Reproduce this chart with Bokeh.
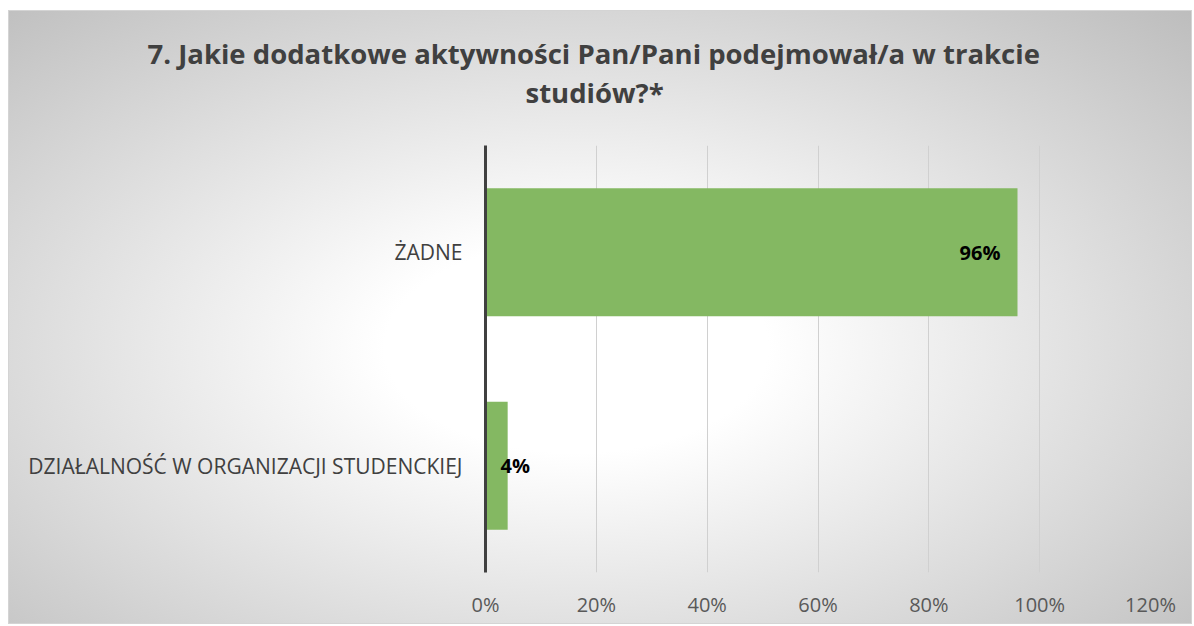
from bokeh.plotting import figure
from bokeh.models import ColumnDataSource, FactorRange, Range1d, NumeralTickFormatter, Title, FixedTicker
from bokeh.core.properties import value
from bokeh.embed import file_html
from bokeh.resources import INLINE

categories = ["DZIAŁALNOŚĆ W ORGANIZACJI STUDENCKIEJ", "ŻADNE"]
shares = [0.04, 0.96]
labels = ["4%", "96%"]
ticks = [0, 0.2, 0.4, 0.6, 0.8, 1.0, 1.2]
title_lines = ["7. Jakie dodatkowe aktywności Pan/Pani podejmował/a w trakcie", "studiów?*"]

FONT = "Open Sans"

align = ["right" if v > 0.5 else "left" for v in shares]
xoff = [-17 if v > 0.5 else 15 for v in shares]
anchor = [v if v > 0.5 else 0 for v in shares]

src = ColumnDataSource(dict(cat=categories, v=shares, lab=labels, al=align, xo=xoff, ax=anchor))

p = figure(width=1184, height=614, y_range=FactorRange(factors=categories, range_padding=0),
           x_range=Range1d(0, 1.2), output_backend="svg", toolbar_location=None,
           min_border_left=477, min_border_right=42, min_border_top=135, min_border_bottom=52,
           background_fill_color=None, border_fill_color=None, outline_line_color=None,
           title=None)
p.margin = (10, 0, 0, 8)
p.styles = {"background": "radial-gradient(ellipse farthest-corner at 48% 55%, #ffffff 0%, #ffffff 22%, #bdbdbd 100%)",
            "box-shadow": "inset 0 0 0 1px #d4d4d4"}

p.hbar(y="cat", right="v", left=0, height=0.6, source=src, fill_color="#84B862", line_color=None)

p.text(x="ax", y="cat", text="lab", source=src, text_align="al", x_offset="xo",
       text_baseline="middle", text_font=value(FONT), text_font_style="bold",
       text_font_size="20px", text_color="#000000")

# title: spacer next to the frame, then line 2, then line 1 (panels stack outward)
p.add_layout(Title(text=" ", text_font_size="1px", standoff=31), "above")
p.add_layout(Title(text=title_lines[1], align="left", offset=40, vertical_align="middle", standoff=0,
                   text_font=FONT, text_font_size="27.5px", text_font_style="bold",
                   text_color="#404040"), "above")
p.add_layout(Title(text=title_lines[0], align="left", offset=-338, vertical_align="middle", standoff=0,
                   text_font=FONT, text_font_size="27.5px", text_font_style="bold",
                   text_color="#404040"), "above")

p.xaxis.ticker = FixedTicker(ticks=ticks)
p.xaxis.formatter = NumeralTickFormatter(format="0%")
p.xaxis.axis_line_color = None
p.xaxis.major_tick_line_color = None
p.xaxis.minor_tick_line_color = None
p.xaxis.major_label_standoff = 12
p.xaxis.major_label_text_font = FONT
p.xaxis.major_label_text_font_size = "20px"
p.xaxis.major_label_text_color = "#595959"

p.yaxis.axis_line_color = "#404040"
p.yaxis.axis_line_width = 3
p.yaxis.major_tick_line_color = None
p.yaxis.minor_tick_line_color = None
p.yaxis.major_label_standoff = 17
p.yaxis.major_label_text_font = FONT
p.yaxis.major_label_text_font_size = "21px"
p.yaxis.major_label_text_color = "#404040"

p.xgrid.ticker = FixedTicker(ticks=ticks)
p.xgrid.grid_line_color = "#d0d0d0"
p.ygrid.grid_line_color = None

open("out.html", "w").write(file_html(p, INLINE))
